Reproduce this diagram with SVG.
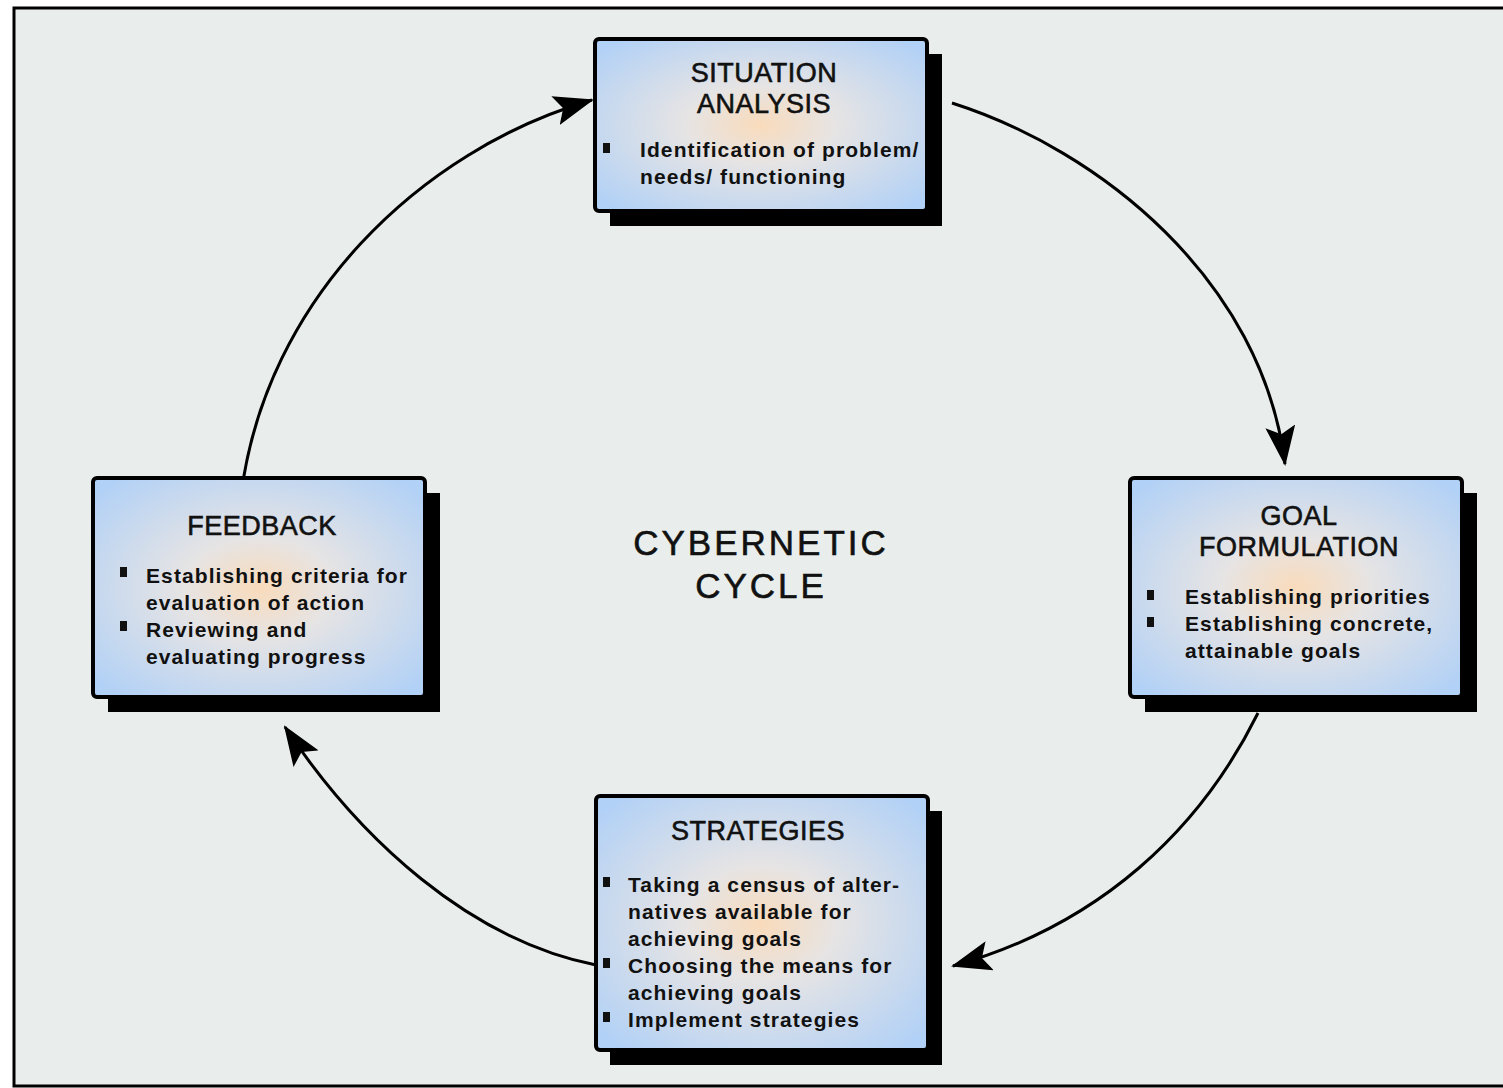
<svg xmlns="http://www.w3.org/2000/svg" width="1503" height="1088" viewBox="0 0 1503 1088">
<defs>
<radialGradient id="boxfill" cx="0.5" cy="0.5" r="0.65">
<stop offset="0" stop-color="#f9dbbb"/>
<stop offset="0.35" stop-color="#e6e4e4"/>
<stop offset="1" stop-color="#b2d1f6"/>
</radialGradient>
<marker id="arr" viewBox="0 0 40 30" refX="38" refY="15" markerWidth="40" markerHeight="30" markerUnits="userSpaceOnUse" orient="auto">
<path d="M0,0 L40,15 L0,30 L8,15 Z" fill="#000"/>
</marker>
<style>
.shadow{fill:#000}
.box{fill:url(#boxfill);stroke:#000;stroke-width:4}
.title{font-family:"Liberation Sans",Arial,sans-serif;font-size:27px;fill:#111;stroke:#111;stroke-width:0.6;text-anchor:middle;letter-spacing:0.5px}
.body{font-family:"Liberation Sans",Arial,sans-serif;font-size:21px;font-weight:bold;fill:#111;letter-spacing:1.1px}
.bul{fill:#111}
.conn{fill:none;stroke:#000;stroke-width:3}
.center{font-family:"Liberation Sans",Arial,sans-serif;font-size:35px;fill:#111;stroke:#111;stroke-width:0.6;text-anchor:middle;letter-spacing:3px}
</style>
</defs>
<rect x="0" y="0" width="1503" height="1088" fill="#ffffff"/>
<rect x="14" y="8" width="1500" height="1078" fill="#e9eeec" stroke="#000" stroke-width="3"/>

<g id="connectors">
<path class="conn" d="M952,103 C1100,150 1262,280 1285,464" marker-end="url(#arr)"/>
<path class="conn" d="M1258,713 C1200,830 1100,925 953,966" marker-end="url(#arr)"/>
<path class="conn" d="M596,965 C470,940 360,840 285,727" marker-end="url(#arr)"/>
<path class="conn" d="M241,496 C265,300 420,150 592,100" marker-end="url(#arr)"/>
</g>

<g id="center-label">
<text class="center" x="761" y="555">CYBERNETIC</text>
<text class="center" x="761" y="598">CYCLE</text>
</g>

<g id="situation-analysis">
<rect class="shadow" x="610" y="54" width="332" height="172"/>
<rect class="box" x="595" y="39" width="332" height="172" rx="4"/>
<text class="title" x="764" y="82">SITUATION</text>
<text class="title" x="764" y="113">ANALYSIS</text>
<rect class="bul" x="603" y="143" width="7" height="10"/>
<text class="body" x="640" y="157">Identification of problem/</text>
<text class="body" x="640" y="184">needs/ functioning</text>
</g>

<g id="goal-formulation">
<rect class="shadow" x="1145" y="493" width="332" height="219"/>
<rect class="box" x="1130" y="478" width="332" height="219" rx="4"/>
<text class="title" x="1299" y="525">GOAL</text>
<text class="title" x="1299" y="556">FORMULATION</text>
<rect class="bul" x="1147" y="590" width="7" height="10"/>
<rect class="bul" x="1147" y="617" width="7" height="10"/>
<text class="body" x="1185" y="604">Establishing priorities</text>
<text class="body" x="1185" y="631">Establishing concrete,</text>
<text class="body" x="1185" y="658">attainable goals</text>
</g>

<g id="strategies">
<rect class="shadow" x="610" y="811" width="332" height="254"/>
<rect class="box" x="596" y="796" width="332" height="254" rx="4"/>
<text class="title" x="758" y="840">STRATEGIES</text>
<rect class="bul" x="603" y="877" width="7" height="10"/>
<rect class="bul" x="603" y="958" width="7" height="10"/>
<rect class="bul" x="603" y="1012" width="7" height="10"/>
<text class="body" x="628" y="892">Taking a census of alter-</text>
<text class="body" x="628" y="919">natives available for</text>
<text class="body" x="628" y="946">achieving goals</text>
<text class="body" x="628" y="973">Choosing the means for</text>
<text class="body" x="628" y="1000">achieving goals</text>
<text class="body" x="628" y="1027">Implement strategies</text>
</g>

<g id="feedback">
<rect class="shadow" x="108" y="493" width="332" height="219"/>
<rect class="box" x="93" y="478" width="332" height="219" rx="4"/>
<text class="title" x="262" y="535">FEEDBACK</text>
<rect class="bul" x="120" y="567" width="7" height="10"/>
<rect class="bul" x="120" y="621" width="7" height="10"/>
<text class="body" x="146" y="583">Establishing criteria for</text>
<text class="body" x="146" y="610">evaluation of action</text>
<text class="body" x="146" y="637">Reviewing and</text>
<text class="body" x="146" y="664">evaluating progress</text>
</g>
</svg>
